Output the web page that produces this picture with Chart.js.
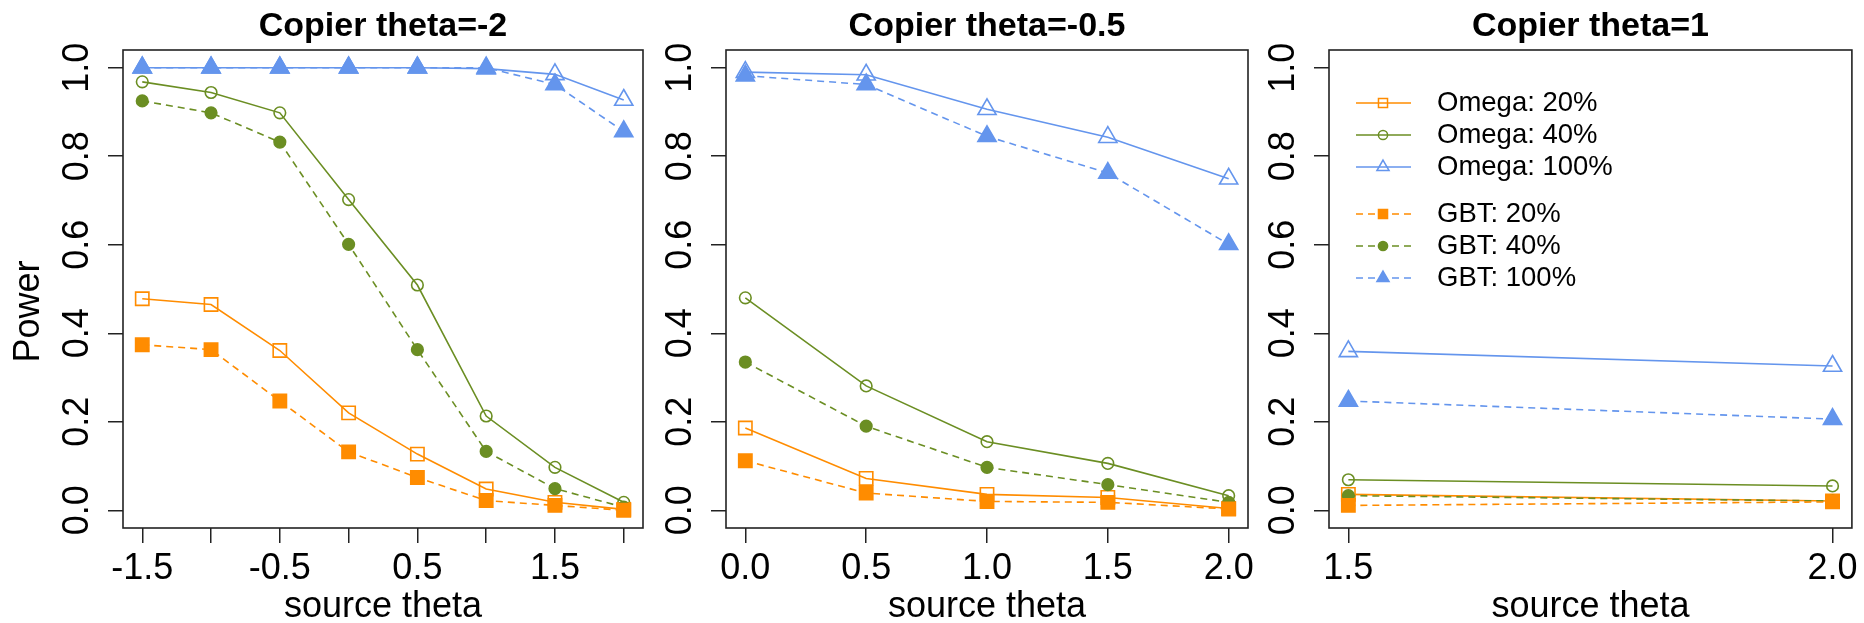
<!DOCTYPE html>
<html>
<head>
<meta charset="utf-8">
<script src="https://cdn.jsdelivr.net/npm/chart.js@4.4.1/dist/chart.umd.min.js"></script>
<style>
  html, body { margin: 0; padding: 0; background: #fff; }
  #wrap { position: relative; width: 1864px; height: 623px; overflow: hidden; }
  canvas { position: absolute; top: 0; }
</style>
</head>
<body>
<div id="wrap">
  <canvas id="c1" width="663" height="623" style="left:0px"></canvas>
  <canvas id="c2" width="600" height="623" style="left:663px"></canvas>
  <canvas id="c3" width="601" height="623" style="left:1263px"></canvas>
</div>
<script>
// values
const panelTitles = ['Copier theta=-2', 'Copier theta=-0.5', 'Copier theta=1'];
const seriesNames = ['Omega: 20%', 'Omega: 40%', 'Omega: 100%', 'GBT: 20%', 'GBT: 40%', 'GBT: 100%'];
const yAxisTitle = 'Power';
const xAxisTitle = 'source theta';

const sourceTheta1 = [-1.5, -1, -0.5, 0, 0.5, 1, 1.5, 2];
const sourceTheta2 = [0, 0.5, 1, 1.5, 2];
const sourceTheta3 = [1.5, 2];

// copier theta = -2
const omega20_p1  = [0.478, 0.465, 0.361, 0.220, 0.127, 0.048, 0.018, 0.002];
const omega40_p1  = [0.968, 0.944, 0.898, 0.702, 0.509, 0.213, 0.097, 0.018];
const omega100_p1 = [1.0, 1.0, 1.0, 1.0, 1.0, 0.998, 0.985, 0.927];
const gbt20_p1    = [0.374, 0.363, 0.247, 0.132, 0.074, 0.022, 0.011, 0.0];
const gbt40_p1    = [0.925, 0.898, 0.832, 0.601, 0.363, 0.133, 0.049, 0.007];
const gbt100_p1   = [1.0, 1.0, 1.0, 1.0, 1.0, 1.0, 0.962, 0.856];

// copier theta = -0.5
const omega20_p2  = [0.186, 0.072, 0.036, 0.029, 0.004];
const omega40_p2  = [0.480, 0.281, 0.155, 0.106, 0.033];
const omega100_p2 = [0.990, 0.984, 0.906, 0.843, 0.749];
const gbt20_p2    = [0.112, 0.039, 0.020, 0.018, 0.003];
const gbt40_p2    = [0.335, 0.190, 0.097, 0.058, 0.018];
const gbt100_p2   = [0.982, 0.962, 0.845, 0.762, 0.601];

// copier theta = 1
const omega20_p3  = [0.036, 0.021];
const omega40_p3  = [0.069, 0.055];
const omega100_p3 = [0.359, 0.326];
const gbt20_p3    = [0.011, 0.019];
const gbt40_p3    = [0.033, 0.021];
const gbt100_p3   = [0.247, 0.206];

const yTicks = [0, 0.2, 0.4, 0.6, 0.8, 1.0];
const xTicks1 = [-1.5, -1, -0.5, 0, 0.5, 1, 1.5, 2];
const xLabels1 = [-1.5, -0.5, 0.5, 1.5];
const xTicks2 = [0, 0.5, 1, 1.5, 2];
const xLabels2 = [0, 0.5, 1, 1.5, 2];
const xTicks3 = [1.5, 2];
const xLabels3 = [1.5, 2];

// styles
const ORANGE = '#FF8C00', GREEN = '#6B8E23', BLUE = '#6495ED';
const seriesColors = [ORANGE, GREEN, BLUE, ORANGE, GREEN, BLUE];
const seriesShapes = ['rect', 'circle', 'triangle', 'rect', 'circle', 'triangle'];
const seriesFilled = [false, false, false, true, true, true];
const markerRadius = { rect: 9.4, circle: 5.8, triangle: 10.5 };
const legendRadius = { rect: 6.4, circle: 4.6, triangle: 7 };
const FONT = "'Liberation Sans', Arial, sans-serif";

const framePlugin = {
  id: 'frame',
  afterDraw(chart) {
    const a = chart.chartArea;
    const ctx = chart.ctx;
    ctx.save();
    ctx.strokeStyle = '#222';
    ctx.lineWidth = 1.6;
    ctx.strokeRect(a.left, a.top, a.right - a.left, a.bottom - a.top);
    ctx.restore();
  }
};

// y label of the whole figure (centred on the page height, as in R's outer margin)
const outerLabelPlugin = {
  id: 'outerLabel',
  afterDraw(chart, args, opts) {
    if (!opts.show) return;
    const ctx = chart.ctx;
    ctx.save();
    ctx.translate(29.5, chart.height / 2);
    ctx.rotate(-Math.PI / 2);
    ctx.fillStyle = '#000';
    ctx.font = '36px ' + FONT;
    ctx.textAlign = 'center';
    ctx.textBaseline = 'middle';
    ctx.fillText(yAxisTitle, 0, 0);
    ctx.restore();
  }
};

// legend drawn inside the plot box, R style (line + marker)
const rLegendPlugin = {
  id: 'rLegend',
  afterDraw(chart, args, opts) {
    if (!opts.show) return;
    const ctx = chart.ctx;
    const a = chart.chartArea;
    const rows = [53, 85, 117, 164, 196, 228];
    ctx.save();
    seriesNames.forEach((name, i) => {
      const y = a.top + rows[i];
      const x0 = a.left + 27, x1 = a.left + 82, xm = a.left + 54;
      ctx.strokeStyle = seriesColors[i];
      ctx.lineWidth = 1.5;
      ctx.setLineDash(seriesFilled[i] ? [7, 5] : []);
      ctx.beginPath();
      ctx.moveTo(x0, y);
      ctx.lineTo(x1, y);
      ctx.stroke();
      ctx.setLineDash([]);
      ctx.fillStyle = seriesFilled[i] ? seriesColors[i] : 'rgba(0,0,0,0)';
      Chart.helpers.drawPoint(ctx, {
        pointStyle: seriesShapes[i], rotation: 0,
        radius: legendRadius[seriesShapes[i]], borderWidth: 1.5
      }, xm, y);
      ctx.fillStyle = '#000';
      ctx.font = '27.5px ' + FONT;
      ctx.textBaseline = 'middle';
      ctx.textAlign = 'left';
      ctx.fillText(name, a.left + 108, y);
    });
    ctx.restore();
  }
};

function near(list, v) {
  return list.some(t => Math.abs(t - v) < 1e-9);
}

function makePanel(id, idx, xs, values, xTicks, xLabels, xMin, xMax, axisWidth, rightPad, showYTitle, showLegend) {
  const datasets = values.map((vals, i) => ({
    label: seriesNames[i],
    data: xs.map((x, k) => ({ x: x, y: vals[k] })),
    borderColor: seriesColors[i],
    backgroundColor: seriesColors[i],
    borderWidth: 1.6,
    borderDash: seriesFilled[i] ? [7, 5] : [],
    pointStyle: seriesShapes[i],
    pointRadius: markerRadius[seriesShapes[i]],
    pointBorderWidth: 1.6,
    pointBorderColor: seriesColors[i],
    pointBackgroundColor: seriesFilled[i] ? seriesColors[i] : 'rgba(0,0,0,0)',
    tension: 0,
    order: seriesFilled[i] ? 1 : 2,
    clip: false
  }));

  return new Chart(document.getElementById(id), {
    type: 'line',
    data: { datasets },
    plugins: [framePlugin, rLegendPlugin, outerLabelPlugin],
    options: {
      responsive: false,
      animation: false,
      devicePixelRatio: 1,
      layout: { padding: { left: 0, right: rightPad, top: 0, bottom: 0 } },
      plugins: {
        legend: { display: false },
        tooltip: { enabled: false },
        title: {
          display: true,
          text: panelTitles[idx],
          fullSize: false,
          color: '#000',
          font: { family: FONT, size: 34, weight: 'bold', lineHeight: 1.2 },
          padding: { top: 5.8, bottom: 3.4 }
        },
        rLegend: { show: showLegend },
        outerLabel: { show: showYTitle }
      },
      scales: {
        x: {
          type: 'linear',
          min: xMin,
          max: xMax,
          afterBuildTicks: s => { s.ticks = xTicks.map(v => ({ value: v })); },
          afterFit: s => { s.height = 95; },
          border: { display: false },
          grid: { drawOnChartArea: false, drawTicks: true, tickLength: 15, color: '#222', lineWidth: 1.5 },
          ticks: {
            autoSkip: false, maxRotation: 0, minRotation: 0, padding: 4,
            color: '#000',
            font: { family: FONT, size: 36 },
            callback: v => near(xLabels, v) ? v.toFixed(1) : ''
          },
          title: {
            display: true, text: xAxisTitle, color: '#000',
            font: { family: FONT, size: 36, lineHeight: 0.9 },
            padding: { top: 0, bottom: 0 }
          }
        },
        y: {
          type: 'linear',
          min: -0.04,
          max: 1.04,
          afterBuildTicks: s => { s.ticks = yTicks.map(v => ({ value: v })); },
          afterFit: s => { s.width = axisWidth; },
          border: { display: false },
          grid: { drawOnChartArea: false, drawTicks: true, tickLength: 15, color: '#222', lineWidth: 1.5 },
          ticks: {
            autoSkip: false, minRotation: 90, maxRotation: 90, crossAlign: 'center', padding: 5,
            color: '#000',
            font: { family: FONT, size: 36 },
            callback: v => v.toFixed(1)
          }
        }
      }
    }
  });
}

makePanel('c1', 0, sourceTheta1,
  [omega20_p1, omega40_p1, omega100_p1, gbt20_p1, gbt40_p1, gbt100_p1],
  xTicks1, xLabels1, -1.64, 2.14, 123, 20, true, false);

makePanel('c2', 1, sourceTheta2,
  [omega20_p2, omega40_p2, omega100_p2, gbt20_p2, gbt40_p2, gbt100_p2],
  xTicks2, xLabels2, -0.08, 2.08, 63, 15, false, false);

makePanel('c3', 2, sourceTheta3,
  [omega20_p3, omega40_p3, omega100_p3, gbt20_p3, gbt40_p3, gbt100_p3],
  xTicks3, xLabels3, 1.48, 2.02, 66, 12, false, true);
</script>
</body>
</html>
